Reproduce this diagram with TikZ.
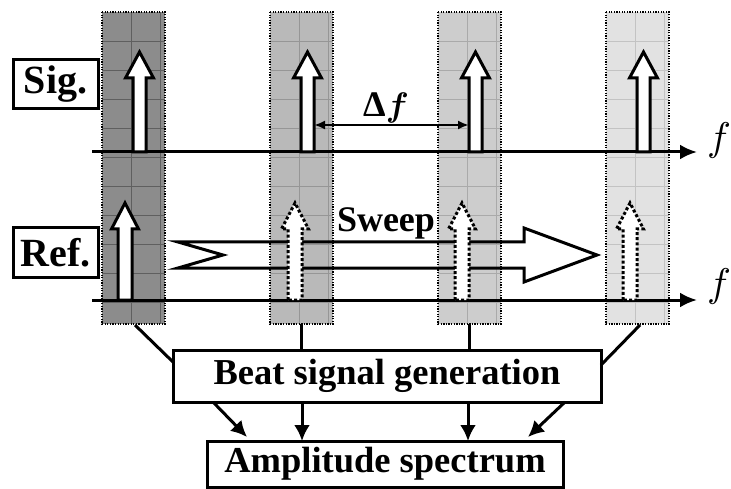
\documentclass[tikz,border=0pt]{standalone}
\usepackage{bm}
\usepackage{graphicx}
\usepackage{fontspec}
\setmainfont{Liberation Serif}
\usetikzlibrary{arrows.meta}
\definecolor{barA}{RGB}{140,140,140}
\definecolor{barB}{RGB}{185,185,185}
\definecolor{barC}{RGB}{205,205,205}
\definecolor{barD}{RGB}{226,226,226}
\definecolor{gridA}{RGB}{95,95,95}
\definecolor{gridB}{RGB}{150,150,150}
\definecolor{gridC}{RGB}{170,170,170}
\definecolor{gridD}{RGB}{195,195,195}
\newcommand{\spbar}[4]{%
  \node[barnode, fill=#3] (#1) at (#2,12) {};
  \foreach \k in {1,...,10}{\draw[line width=0.7pt, #4] (#2,{12+29*\k}) -- ({#2+63},{12+29*\k});}
  \draw[line width=0.7pt,#4] ({#2+29},12) -- ({#2+29},324);
  \draw[line width=0.7pt,#4] ({#2+58},12) -- ({#2+58},324);
  \draw[dash pattern=on 1.3pt off 1.3pt, line width=1.3pt] (#1.north west) rectangle (#1.south east);
}
\newcommand{\sigarw}[1]{%
  \draw[blockarw] ({#1-6.5},152) -- ({#1-6.5},78) -- ({#1-14},78) -- (#1,52) -- ({#1+14},78) -- ({#1+6.5},78) -- ({#1+6.5},152) -- cycle;}
\newcommand{\refarw}[2]{%
  \draw[blockarw,#2] ({#1-7},300) -- ({#1-7},229) -- ({#1-13.5},229) -- (#1,203) -- ({#1+13.5},229) -- ({#1+7},229) -- ({#1+7},300) -- cycle;}
\begin{document}
\begin{tikzpicture}[x=1pt,y=-1pt,line join=miter,
  barnode/.style={minimum width=63pt, minimum height=312pt, inner sep=0pt, outer sep=0pt, anchor=north west},
  blockarw/.style={draw=black, fill=white, line width=3pt},
  dotarw/.style={dash pattern=on 3pt off 2.2pt},
  thickline/.style={line width=3pt},
  axisline/.style={line width=3pt, -{Latex[length=17pt,width=15pt]}},
  labelbox/.style={draw=black, fill=white, line width=3pt, inner sep=0pt, font=\fontsize{40}{42}\selectfont\bfseries},
  procbox/.style={draw=black, fill=white, line width=3pt, inner sep=0pt, font=\fontsize{36.5}{40}\selectfont\bfseries},
  flabel/.style={inner sep=0pt, anchor=base west},
  flow/.style={line width=3pt, -{Latex[length=16pt,width=16pt]}}]
\useasboundingbox (0,0) rectangle (731,489);
% bars
\spbar{bar1}{102}{barA}{gridA}
\spbar{bar2}{270}{barB}{gridB}
\spbar{bar3}{438}{barC}{gridC}
\spbar{bar4}{606}{barD}{gridD}
% axes
\coordinate (s0) at (92,152); \coordinate (s1) at (697,152);
\coordinate (r0) at (92,300); \coordinate (r1) at (697,300);
\draw[axisline] (s0) -- (s1);
\draw[axisline] (r0) -- (r1);
\node[flabel] (fs) at (707,151) {\scalebox{4}{$f$}};
\node[flabel] (fr) at (707,296) {\scalebox{4}{$f$}};
% label boxes
\node[labelbox, minimum width=85pt, minimum height=49pt] (sig) at (55.5,84.5) {Sig.};
\node[labelbox, minimum width=85pt, minimum height=49pt] (ref) at (55.5,252.5) {Ref.};
% process boxes
\node[procbox, minimum width=428pt, minimum height=52pt] (beat) at (387,376) {Beat signal generation};
\node[procbox, minimum width=356pt, minimum height=46pt] (amp) at (385,464) {Amplitude spectrum};
% connectors bars -> beat
\coordinate (b1) at (135,325); \coordinate (b1e) at (173,362);
\coordinate (b4) at (640,325); \coordinate (b4e) at (601,365);
\draw[thickline] (b1) -- (b1e);
\draw[thickline] (bar2.south) -- (bar2.south |- beat.north);
\draw[thickline] (bar3.south) -- (bar3.south |- beat.north);
\draw[thickline] (b4) -- (b4e);
% beat -> amp
\coordinate (a1s) at (213,402); \coordinate (a1e) at (247,437);
\coordinate (a4s) at (565,402); \coordinate (a4e) at (528,437);
\coordinate (a2s) at (302,402); \coordinate (a2e) at (302,441);
\coordinate (a3s) at (468,402); \coordinate (a3e) at (468,441);
\draw[flow] (a1s) -- (a1e);
\draw[flow] (a2s) -- (a2e);
\draw[flow] (a3s) -- (a3e);
\draw[flow] (a4s) -- (a4e);
% signal arrows
\sigarw{139.5}
\sigarw{307.5}
\sigarw{475.5}
\sigarw{643.5}
% delta f
\coordinate (d0) at (314,125); \coordinate (d1) at (469,125);
\draw[line width=2.2pt, {Latex[length=11pt,width=9pt]}-{Latex[length=11pt,width=9pt]}] (d0) -- (d1);
\node[inner sep=0pt, anchor=base, font=\fontsize{36}{40}\selectfont\bfseries] (df) at (386,117) {Δ\scalebox{3.4}{\fontsize{10}{12}\selectfont$\bm{f}$}};
% sweep arrow
\draw[line width=3pt] (178,242) -- (223,255) -- (178,268) -- (524,268) -- (524,282) -- (597,255) -- (524,228) -- (524,242) -- cycle;
\node[inner sep=0pt, anchor=base, font=\fontsize{36}{40}\selectfont\bfseries] (sweep) at (386,232) {Sweep};
% reference arrows
\refarw{125}{}
\refarw{295}{dotarw}
\refarw{462}{dotarw}
\refarw{630}{dotarw}
\end{tikzpicture}
\end{document}
